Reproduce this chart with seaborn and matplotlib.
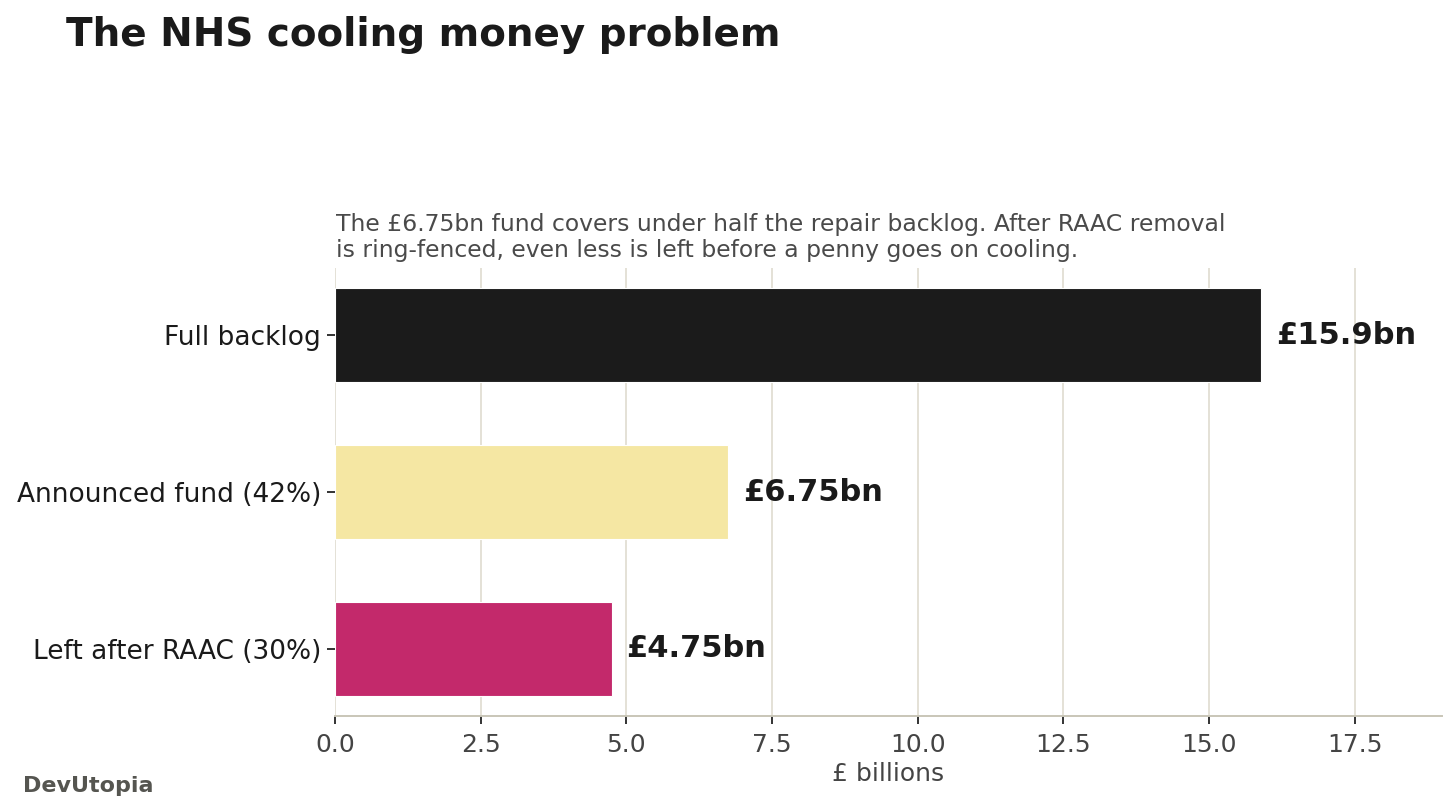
import matplotlib
matplotlib.use("Agg")
import matplotlib.pyplot as plt
import seaborn as sns
import pandas as pd

# data
labels = ["Full backlog", "Announced fund (42%)", "Left after RAAC (30%)"]
values = [15.9, 6.75, 4.75]
value_text = ["£15.9bn", "£6.75bn", "£4.75bn"]
colors = ["#1b1b1b", "#f5e7a3", "#c3296b"]

sns.set_theme(style="white")
plt.rcParams['font.family'] = ['DejaVu Sans']

df = pd.DataFrame({"label": labels, "value": values})

fig = plt.figure(figsize=(7.28, 4.05), dpi=200)
ax = fig.add_axes([0.2301, 0.116, 0.7603, 0.553])

sns.barplot(data=df, x="value", y="label", hue="label", palette=colors,
            legend=False, saturation=1, width=0.6, ax=ax,
            edgecolor="white", linewidth=0.4, zorder=2)

# value labels
for i, (v, t) in enumerate(zip(values, value_text)):
    ax.text(v + 0.25, i, t, va="center", ha="left", fontsize=11,
            fontweight="bold", color="#1a1a1a", zorder=3)

ax.set_xlim(0, 19)
ax.set_ylim(2.43, -0.43)
ax.set_xticks([0, 2.5, 5, 7.5, 10, 12.5, 15, 17.5])
ax.set_xticklabels(["0.0", "2.5", "5.0", "7.5", "10.0", "12.5", "15.0", "17.5"])
ax.grid(axis="x", color="#e4e1d6", linewidth=0.7, zorder=0)
ax.set_axisbelow(True)

for s in ["top", "right", "left"]:
    ax.spines[s].set_visible(False)
ax.spines["bottom"].set_color("#c9c6b8")
ax.spines["bottom"].set_linewidth(0.7)

ax.tick_params(axis="x", bottom=True, length=3, width=0.7, color="#333333",
               labelsize=9, labelcolor="#444444", pad=3)
ax.tick_params(axis="y", left=True, length=3, width=0.7, color="#333333",
               labelsize=9.5, labelcolor="#1a1a1a", pad=2)

ax.set_xlabel("£ billions", fontsize=9, color="#444444", labelpad=2)
ax.set_ylabel("")

fig.text(0.0453, 0.943, "The NHS cooling money problem", fontsize=14,
         fontweight="bold", color="#1a1a1a", ha="left", va="baseline")
fig.text(0.2308, 0.676,
         "The £6.75bn fund covers under half the repair backlog. After RAAC removal\n"
         "is ring-fenced, even less is left before a penny goes on cooling.",
         fontsize=8.45, color="#4a4a4a", ha="left", va="bottom", linespacing=1.2)
fig.text(0.016, 0.022, "DevUtopia", fontsize=8, fontweight="bold",
         color="#555550", ha="left", va="baseline")

fig.savefig("out.png", dpi=200, facecolor="white")
